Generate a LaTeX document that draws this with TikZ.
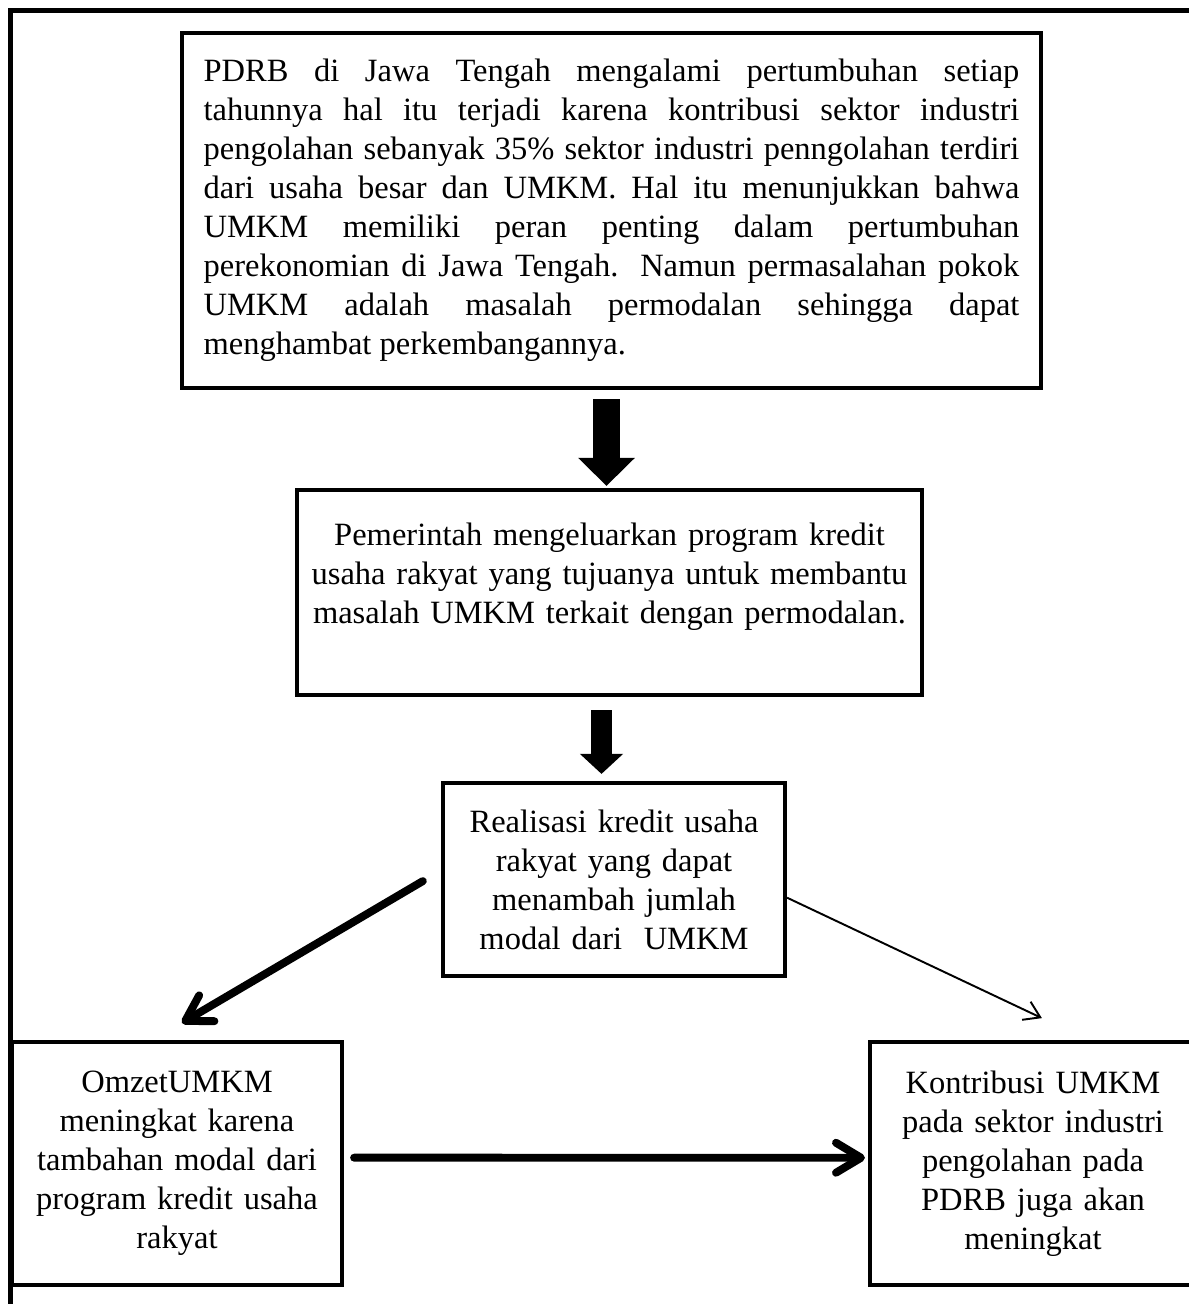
\documentclass[tikz,border=0pt]{standalone}
\usepackage{fontspec}
\setmainfont{Liberation Serif}
\usetikzlibrary{arrows.meta, positioning}
\setlength{\parindent}{0pt}
\hyphenpenalty=10000
\tolerance=9999

\begin{document}
\begin{tikzpicture}[x=0.02cm, y=-0.02cm]
            \tikzstyle{box}=[rectangle, draw=black, line width=2.4pt, inner sep=0pt, align=center, font=\fontsize{18.5}{22.2}\selectfont]
            \tikzstyle{bigdown}=[line width=0.54cm, -{Triangle[width=1.1cm, length=0.56cm]}]
            \tikzstyle{smalldown}=[line width=0.42cm, -{Triangle[width=0.84cm, length=0.4cm]}]
            \tikzstyle{heavyarrow}=[line width=4.5pt, line cap=round, -{Straight Barb[round, length=0.5cm, width=0.6cm]}]
            \tikzstyle{thinarrow}=[line width=1.1pt, -{Straight Barb[length=0.31cm, width=0.4cm]}]

            \useasboundingbox (0,0) rectangle (1188,1304);
            \draw[line width=2.8pt] (10.5,10.5) rectangle (1215,1330);

            \node[box, align=justify, minimum width=17.18cm, minimum height=7.1cm, text width=16.32cm] (b1) at (611.5,210.5) {PDRB di Jawa Tengah mengalami pertumbuhan setiap\linebreak
              tahunnya hal itu terjadi karena kontribusi sektor industri\linebreak
              pengolahan sebanyak 35\% sektor industri penngolahan terdiri\linebreak
              dari usaha besar dan UMKM. Hal itu menunjukkan bahwa\linebreak
              UMKM memiliki peran penting dalam pertumbuhan\linebreak
              perekonomian di Jawa Tengah. Namun permasalahan pokok\linebreak
              UMKM adalah masalah permodalan sehingga dapat\linebreak
              menghambat perkembangannya.\par\vspace{0.32cm}};
            \node[box, minimum width=12.5cm, minimum height=4.1cm, text width=12.3cm] (b2) at (609.5,592.5) {Pemerintah mengeluarkan program kredit\\ usaha rakyat yang tujuanya untuk membantu\\ masalah UMKM terkait dengan permodalan.\\ ~};
            \node[box, minimum width=6.84cm, minimum height=3.86cm, text width=6.6cm] (b3) at (614,879.5) {Realisasi kredit usaha\\ rakyat yang dapat\\ menambah jumlah\\ modal dari~~UMKM};
            \node[box, minimum width=6.6cm, minimum height=4.86cm, text width=6.4cm] (b4) at (177,1163.5) {OmzetUMKM\\ meningkat karena\\ tambahan modal dari\\ program kredit usaha\\ rakyat};
            \node[box, minimum width=6.52cm, minimum height=4.86cm, text width=6.3cm] (b5) at (1033,1163.5) {Kontribusi UMKM\\ pada sektor industri\\ pengolahan pada\\ PDRB juga akan\\ meningkat};

            \coordinate (a1) at ([xshift=-0.06cm]b2.north |- b1.south);
            \coordinate (a2) at ([xshift=-0.16cm]b2.south);

            \path (a1) edge[bigdown, shorten <=0.18cm, shorten >=0.04cm] (a1 |- b2.north);
            \path (a2) edge[smalldown, shorten <=0.26cm, shorten >=0.14cm] (a2 |- b3.north);
            \path (b3.177) edge[heavyarrow, shorten <=0.42cm, shorten >=0.67cm] (b4.101);
            \path (b3.-6) edge[thinarrow, shorten >=1.02cm] (b5.66);
            \path (b4.2) edge[heavyarrow, shorten <=0.2cm, shorten >=0.06cm] (b5.178);

          \end{tikzpicture}
\end{document}
